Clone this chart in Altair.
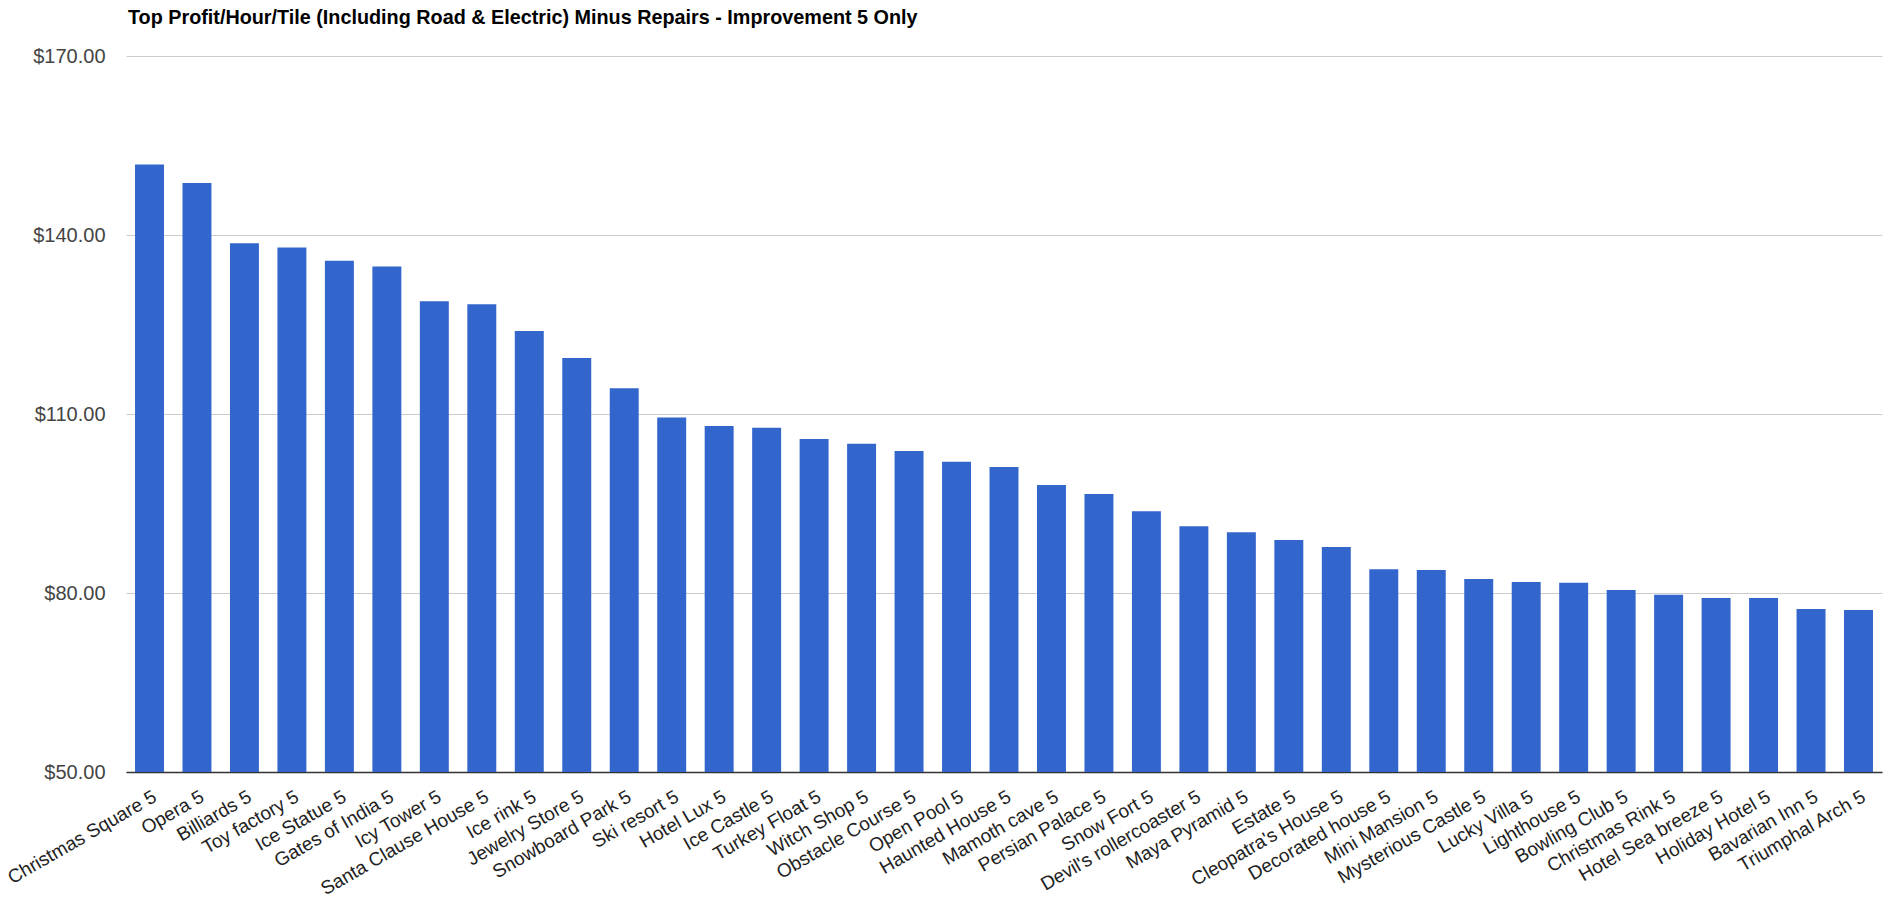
import altair as alt
import pandas as pd

names = [
    "Christmas Square 5", "Opera 5", "Billiards 5", "Toy factory 5", "Ice Statue 5",
    "Gates of India 5", "Icy Tower 5", "Santa Clause House 5", "Ice rink 5",
    "Jewelry Store 5", "Snowboard Park 5", "Ski resort 5", "Hotel Lux 5",
    "Ice Castle 5", "Turkey Float 5", "Witch Shop 5", "Obstacle Course 5",
    "Open Pool 5", "Haunted House 5", "Mamoth cave 5", "Persian Palace 5",
    "Snow Fort 5", "Devil's rollercoaster 5", "Maya Pyramid 5", "Estate 5",
    "Cleopatra's House 5", "Decorated house 5", "Mini Mansion 5",
    "Mysterious Castle 5", "Lucky Villa 5", "Lighthouse 5", "Bowling Club 5",
    "Christmas Rink 5", "Hotel Sea breeze 5", "Holiday Hotel 5", "Bavarian Inn 5",
    "Triumphal Arch 5",
]
values = [
    151.8, 148.7, 138.6, 137.9, 135.7, 134.7, 128.9, 128.4, 123.9, 119.4,
    114.3, 109.4, 108.0, 107.7, 105.8, 105.0, 103.8, 102.0, 101.1, 98.1,
    96.6, 93.7, 91.2, 90.2, 88.9, 87.7, 84.0, 83.85, 82.35, 81.85, 81.7,
    80.5, 79.7, 79.15, 79.15, 77.3, 77.15,
]
y_ticks = [50, 80, 110, 140, 170]

df = pd.DataFrame({"name": names, "value": values})

H = 716

x_enc = alt.X(
    "name:N",
    sort=None,
    title=None,
    scale=alt.Scale(paddingInner=0.39, paddingOuter=0.19),
    axis=alt.Axis(
        labels=False,
        ticks=False,
        domainColor="#333333",
        domainWidth=1.5,
        grid=False,
    ),
)

bars = (
    alt.Chart(df)
    .mark_bar(color="#3366cc", clip=True)
    .encode(
        x=x_enc,
        y=alt.Y(
            "value:Q",
            title=None,
            scale=alt.Scale(domain=[50, 170], nice=False, zero=False),
            axis=alt.Axis(
                values=y_ticks,
                format="$.2f",
                labelFont="Liberation Sans",
                labelFontSize=20,
                labelColor="#444444",
                labelPadding=21,
                ticks=False,
                domain=False,
                gridColor="#cccccc",
                gridWidth=1,
            ),
        ),
    )
)

labels = (
    alt.Chart(df)
    .mark_text(
        angle=330,
        align="right",
        baseline="top",
        font="Liberation Sans",
        fontSize=19,
        color="#222222",
        dx=1,
        dy=0,
    )
    .encode(
        x=alt.X("name:N", sort=None),
        y=alt.value(H + 16),
        text="name:N",
    )
)

chart = (
    alt.layer(bars, labels)
    .properties(
        width=1756,
        height=H,
        autosize=alt.AutoSizeParams(type="none"),
        padding={"left": 118, "top": 48, "right": 2, "bottom": 126},
        title=alt.TitleParams(
            "Top Profit/Hour/Tile (Including Road & Electric) Minus Repairs - Improvement 5 Only",
            anchor="start",
            frame="group",
            dx=2,
            offset=18,
            font="Liberation Sans",
            fontSize=19.8,
            fontWeight="bold",
            color="#000000",
        ),
    )
    .configure_view(stroke=None)
)

chart.save("out.html", embed_options={"renderer": "svg", "actions": False})
